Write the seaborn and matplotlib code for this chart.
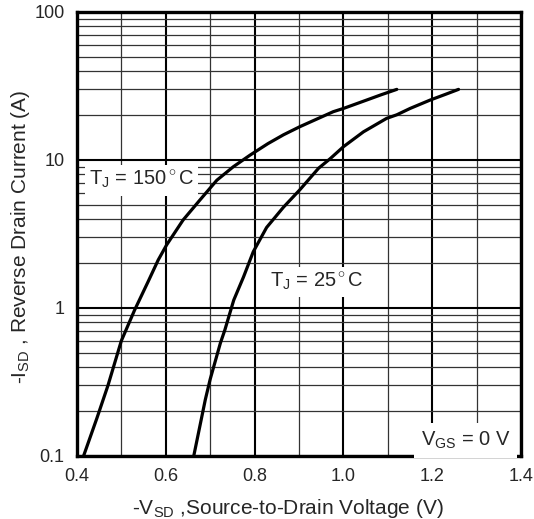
import pandas as pd
import numpy as np
import matplotlib.pyplot as plt
import matplotlib.ticker as mticker
import seaborn as sns

# Curve values
v_150 = [0.415, 0.445, 0.47, 0.50, 0.53, 0.56, 0.583, 0.602, 0.639, 0.677,
         0.715, 0.752, 0.79, 0.83, 0.865, 0.902, 0.94, 0.977, 1.00, 1.052,
         1.085, 1.12]
i_150 = [0.1, 0.18, 0.30, 0.6, 0.97, 1.5, 2.11, 2.67, 3.93, 5.37,
         7.3, 9.0, 10.8, 12.9, 14.8, 16.8, 18.9, 21.2, 22.3, 25.4,
         27.6, 30.0]

v_25 = [0.663, 0.689, 0.70, 0.723, 0.733, 0.753, 0.775, 0.797, 0.827, 0.865,
        0.902, 0.944, 0.97, 1.00, 1.045, 1.097, 1.12, 1.15, 1.195, 1.23, 1.259]
i_25 = [0.1, 0.24, 0.33, 0.58, 0.71, 1.13, 1.62, 2.4, 3.5, 4.8,
        6.3, 8.8, 10.2, 12.3, 15.5, 19.1, 20.2, 22.3, 25.4, 27.8, 30.0]

x_ticks = [0.4, 0.6, 0.8, 1.0, 1.2, 1.4]
x_tick_labels = ['0.4', '0.6', '0.8', '1.0', '1.2', '1.4']
y_ticks = [0.1, 1, 10, 100]
y_tick_labels = ['0.1', '1', '10', '100']

data = pd.DataFrame({
    'vsd': v_150 + v_25,
    'isd': i_150 + i_25,
    'tj': ['150'] * len(v_150) + ['25'] * len(v_25),
})

sns.set_style('white')
plt.rcParams['font.family'] = ['Liberation Sans', 'DejaVu Sans']
plt.rcParams['mathtext.fontset'] = 'custom'
plt.rcParams['mathtext.rm'] = 'Liberation Sans'
plt.rcParams['mathtext.it'] = 'Liberation Sans'

fig = plt.figure(figsize=(5.34, 5.19), dpi=100)
ax = fig.add_axes([0.144, 0.1214, 0.832, 0.8555])

sns.lineplot(data=data, x='vsd', y='isd', hue='tj', units='tj', estimator=None,
             sort=False, palette=['black', 'black'], linewidth=2.3,
             legend=False, ax=ax, zorder=4)

ax.set_yscale('log')
ax.set_xlim(0.4, 1.4)
ax.set_ylim(0.1, 100)

ax.set_xticks(x_ticks)
ax.set_xticklabels(x_tick_labels)
ax.xaxis.set_minor_locator(mticker.MultipleLocator(0.1))
ax.set_yticks(y_ticks)
ax.set_yticklabels(y_tick_labels)
ax.yaxis.set_minor_locator(mticker.LogLocator(base=10, subs=np.arange(2, 10)))
ax.yaxis.set_minor_formatter(mticker.NullFormatter())

ax.grid(which='major', color='black', linewidth=1.5)
ax.grid(which='minor', color='#333333', linewidth=0.9)
ax.set_axisbelow(True)

ax.tick_params(which='both', length=0, labelsize=13)
ax.tick_params(axis='x', pad=9)
ax.tick_params(axis='y', pad=9)

for s in ax.spines.values():
    s.set_linewidth(2.4)
    s.set_color('black')

ax.set_xlabel(r'-V$_{\mathrm{SD}}$ ,Source-to-Drain Voltage (V)', fontsize=15)
ax.set_ylabel(r'-I$_{\mathrm{SD}}$ , Reverse Drain Current (A)', fontsize=15)
ax.xaxis.set_label_coords(0.475, -0.092)
ax.yaxis.set_label_coords(-0.10, 0.493)

box = dict(facecolor='white', edgecolor='none', pad=3)
ax.text(0.428, 7.3, r'T$_{\mathrm{J}}$ = 150$^\circ$C', fontsize=14.5, va='center',
        ha='left', bbox=box, zorder=3)
ax.text(0.835, 1.5, r'T$_{\mathrm{J}}$ = 25$^\circ$C', fontsize=14.5, va='center',
        ha='left', bbox=box, zorder=3)
ax.text(1.375, 0.108, r'V$_{\mathrm{GS}}$ = 0 V', fontsize=14.5, va='bottom',
        ha='right', bbox=dict(facecolor='white', edgecolor='none', pad=5), zorder=3)

plt.savefig('out.png', dpi=100)
